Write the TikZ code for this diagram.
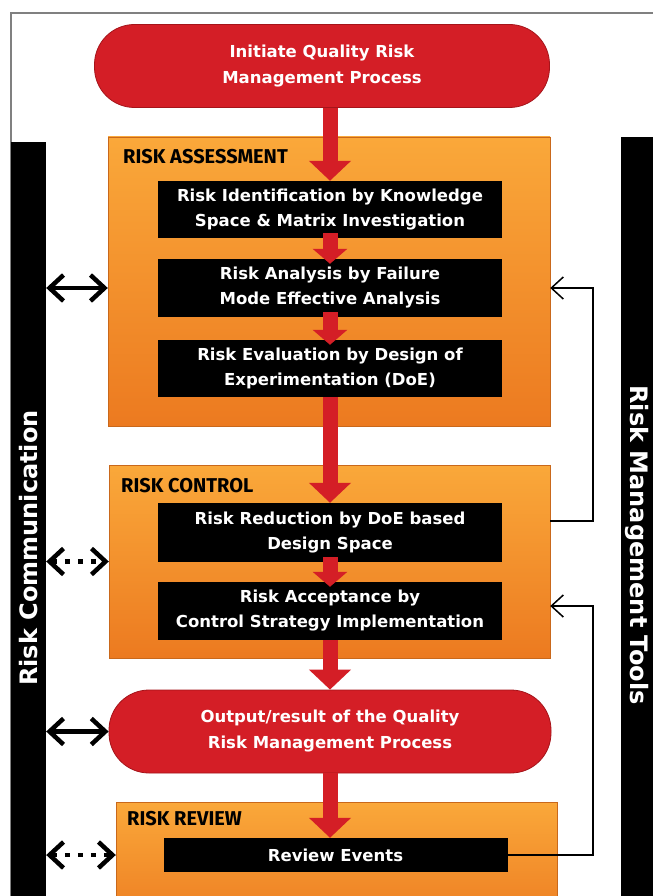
\documentclass[tikz,border=0pt]{standalone}
\usepackage{fontspec}
\usepackage{graphicx}
\setmainfont{Fira Sans}
\newfontfamily\sidefont{DejaVu Sans}
\usetikzlibrary{arrows.meta}

\definecolor{redfill}{RGB}{212,30,38}
\definecolor{reddark}{RGB}{165,20,26}
\definecolor{orangetop}{RGB}{250,168,58}
\definecolor{orangebot}{RGB}{236,122,32}

\tikzset{   boxorange/.style={draw=orangebot!85!black,line width=0.4pt,top color=orangetop,bottom color=orangebot,minimum width=441pt},
            boxblack/.style={fill=black,text=white,font=\sidefont\bfseries\fontsize{16.5}{25}\selectfont,align=center,minimum width=344pt,inner sep=2pt},
            ovalred/.style={fill=redfill,draw=reddark,line width=0.8pt,rounded corners=40pt,text=white,font=\sidefont\bfseries\fontsize{16.5}{26}\selectfont,align=center,minimum width=442pt,minimum height=83pt},
            barblack/.style={fill=black,text=white,font=\sidefont\bfseries\fontsize{24}{24}\selectfont,inner sep=0pt},
            labhead/.style={anchor=base west,font=\fontsize{20}{20}\selectfont\bfseries,inner sep=0pt},
            arrred/.style={draw=redfill,line width=15pt,-{Triangle[width=41pt,length=20pt]}},
            arrredsmall/.style={draw=redfill,line width=15pt,-{Triangle[width=34pt,length=15pt]},shorten <=-5pt,shorten >=-5pt},
            arrcomm/.style={line width=4.5pt,{Straight Barb[length=14pt,width=26pt]}-{Straight Barb[length=14pt,width=26pt]}},
            arrcommdot/.style={arrcomm,dash pattern=on 5pt off 8pt},
            arrback/.style={line width=1.5pt,-{Straight Barb[length=12pt,width=22pt]}},
}

\begin{document}
\begin{tikzpicture}[x=1pt,y=-1pt]
    \fill[white] (0,0) rectangle (653,896);
    \useasboundingbox (0,0) rectangle (653,896);
    \draw[gray,line width=1.5pt] (11,896) -- (11,13) -- (653,13); % frame

    \node[barblack,minimum width=35pt,minimum height=812pt] (comm) at (28.5,548) {\rotatebox{90}{Risk Communication}};
    \node[barblack,minimum width=32pt,minimum height=816pt] (tools) at (637,545) {\rotatebox{-90}{Risk Management Tools}};

    \node[ovalred,minimum width=455pt] (init) at (322,66) {Initiate Quality Risk\\Management Process};

    \node[boxorange,minimum width=442pt,minimum height=289pt] (assess) at (329,281.5) {}; % stages
    \node[boxorange,minimum height=193pt] (control) at (329.5,561.5) {};
    \node[boxorange,minimum height=128pt] (review) at (336.5,866) {};

    \node[labhead] (labassess) at (123,164) {RISK ASSESSMENT};
    \node[labhead] (labcontrol) at (121,492) {RISK CONTROL};
    \node[labhead] (labreview) at (127,825) {RISK REVIEW};

    \node[boxblack,minimum height=57pt] (ident) at (330,209.5) {Risk Identification by Knowledge\\Space \& Matrix Investigation};
    \node[boxblack,minimum height=58pt] (analysis) at (330,288) {Risk Analysis by Failure\\Mode Effective Analysis};
    \node[boxblack,minimum height=57pt] (evalu) at (330,368.5) {Risk Evaluation by Design of\\Experimentation (DoE)};
    \node[boxblack,minimum height=59pt] (reduce) at (330,532.5) {Risk Reduction by DoE based\\Design Space};
    \node[boxblack,minimum height=58pt] (accept) at (330,611) {Risk Acceptance by\\Control Strategy Implementation};
    \node[ovalred] (output) at (330,731.5) {Output/result of the Quality\\Risk Management Process};
    \node[boxblack,minimum height=34pt] (revev) at (335.5,855) {Review Events};

    \draw[arrred] (init.south -| ident.north) -- (ident.north); % main flow
    \draw[arrredsmall] (ident.south) -- (analysis.north);
    \draw[arrredsmall] (analysis.south) -- (evalu.north);
    \draw[arrred] (evalu.south) -- (reduce.north);
    \draw[arrredsmall] (reduce.south) -- (accept.north);
    \draw[arrred] (accept.south) -- (output.north);
    \draw[arrred] (output.south) -- (output.south |- revev.north);

    \draw[arrcomm] (comm.east |- analysis) -- (assess.west |- analysis); % communication
    \draw[arrcommdot] (comm.east |- control.west) -- (control.west);
    \draw[arrcomm] (comm.east |- output.west) -- (output.west);
    \draw[arrcommdot] (comm.east |- revev) -- (review.west |- revev);

    \coordinate (fbtop) at (593,288); % tools feedback
    \coordinate (fbmid) at (593,521);
    \coordinate (fblow) at (593,606);
    \draw[arrback] (control.east |- fbmid) -- (fbmid) -- (fbtop) -- (assess.east |- fbtop);
    \draw[arrback] (revev.east) -| (fblow) -- (control.east |- fblow);
\end{tikzpicture}
\end{document}
